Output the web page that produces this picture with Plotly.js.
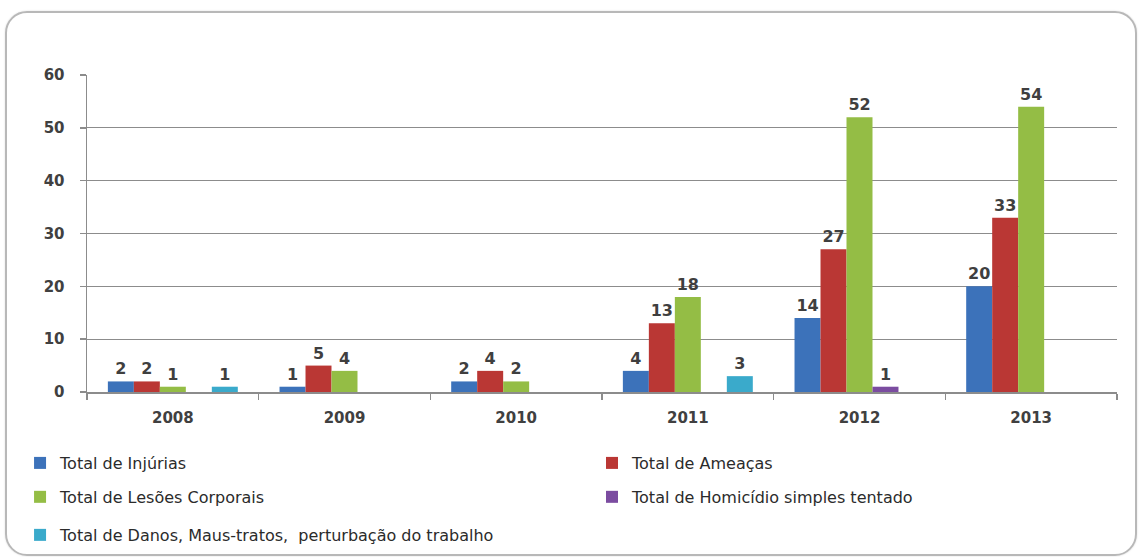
<!DOCTYPE html>
<html><head><meta charset="utf-8">
<script src="https://cdn.plot.ly/plotly-3.0.1.min.js"></script>
<style>
html,body{margin:0;padding:0;background:#fff;}
#wrap{position:relative;width:1141px;height:557px;}
#chart{position:absolute;left:0;top:0;width:1141px;height:557px;}
#frame{position:absolute;left:5px;top:11px;width:1128px;height:541px;border:2px solid #b8b8b8;border-radius:22px;pointer-events:none;box-shadow:0 0 2px rgba(0,0,0,0.15);}
</style></head>
<body><div id="wrap"><div id="chart"></div><div id="frame"></div></div>
<script>
const years = ['2008','2009','2010','2011','2012','2013'];
const injurias   = [2, 1, 2, 4, 14, 20];
const ameacas    = [2, 5, 4, 13, 27, 33];
const lesoes     = [1, 4, 2, 18, 52, 54];
const homicidio  = [null, null, null, null, 1, null];
const danos      = [1, null, null, 3, null, null];
const seriesNames = ['Total de Injúrias','Total de Ameaças','Total de Lesões Corporais','Total de Homicídio simples tentado','Total de Danos, Maus-tratos,  perturbação do trabalho'];
const seriesValues = [injurias, ameacas, lesoes, homicidio, danos];
const colors = ['#3C72BA','#BA3734','#94BD45','#7B4CA0','#3AAACB'];
const legendIds = ['legend','legend2','legend3','legend4','legend5'];

const font = "'DejaVu Sans', sans-serif";
const traces = seriesValues.map((v,i)=>({
  type:'bar', x:years, y:v, name:seriesNames[i],
  marker:{color:colors[i]},
  text:v.map(a=>a===null?'':String(a)),
  textposition:'outside', cliponaxis:false, constraintext:'none',
  textfont:{family:font,size:16,color:'#3f3f3f',weight:700},
  legend:legendIds[i], hoverinfo:'x+y+name'
}));

const legBase = {orientation:'h', xanchor:'left', yanchor:'middle',
  font:{family:font,size:16,color:'#2b2b2b'}, bgcolor:'rgba(0,0,0,0)'};
const colX = [-0.065, 0.4903];
const rowY = [-0.224, -0.331, -0.451];

const layout = {
  width:1141, height:557,
  margin:{l:87,r:24,t:75,b:165, autoexpand:false},
  paper_bgcolor:'#fff', plot_bgcolor:'#fff',
  barmode:'group', bargap:0.243, bargroupgap:0,
  showlegend:true,
  font:{family:font},
  xaxis:{type:'category', showline:true, linecolor:'#8c8c8c', linewidth:1.5,
    ticks:'outside', tickson:'boundaries', ticklen:6, tickcolor:'#8c8c8c', tickwidth:1.5,
    tickfont:{family:font,size:15,color:'#404040',weight:700}, ticklabelstandoff:11,
    showgrid:false, zeroline:false, automargin:false},
  yaxis:{range:[0,60], dtick:10, showline:true, linecolor:'#8c8c8c', linewidth:1.5,
    ticks:'outside', ticklen:6, tickcolor:'#8c8c8c', tickwidth:1.5,
    tickfont:{family:font,size:15,color:'#404040',weight:700}, ticklabelstandoff:12,
    showgrid:true, gridcolor:'#8c8c8c', gridwidth:1.2, zeroline:false, automargin:false}
};
legendIds.forEach((id,i)=>{
  layout[id] = Object.assign({}, legBase, {x:colX[i%2], y:rowY[Math.floor(i/2)]});
});
Plotly.newPlot('chart', traces, layout, {displayModeBar:false, staticPlot:true});
</script></body></html>
